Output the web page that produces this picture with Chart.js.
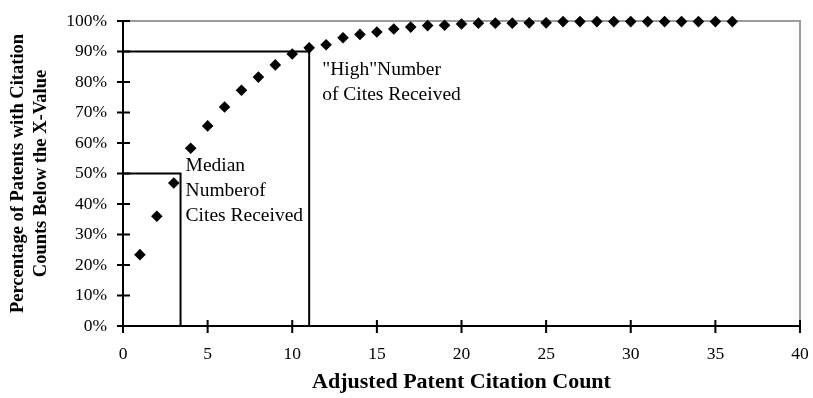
<!DOCTYPE html>
<html>
<head>
<meta charset="utf-8">
<script src="https://cdn.jsdelivr.net/npm/chart.js@4/dist/chart.umd.min.js"></script>
<style>
  html, body { margin: 0; padding: 0; background: #fff; }
  #wrap { width: 813px; height: 398px; }
</style>
</head>
<body>
<div id="wrap"><canvas id="c" width="813" height="398"></canvas></div>
<script>
// ---- data ----
const citationCounts = [1,2,3,4,5,6,7,8,9,10,11,12,13,14,15,16,17,18,19,20,21,22,23,24,25,26,27,28,29,30,31,32,33,34,35,36];
const cumulativePct = [23.4,36.0,46.9,58.3,65.6,71.8,77.3,81.6,85.6,89.2,91.2,92.2,94.5,95.6,96.4,97.4,98.0,98.5,98.6,99.0,
                       99.3,99.3,99.3,99.4,99.4,99.8,99.8,99.8,99.8,99.8,99.8,99.8,99.8,99.8,99.8,99.8];
const medianCount = 3.4, medianPct = 50;
const highCount = 11, highPct = 90;
const xTickValues = [0,5,10,15,20,25,30,35,40];
const yTickValues = [0,10,20,30,40,50,60,70,80,90,100];
const medianLabel = ['Median', 'Numberof', 'Cites Received'];
const highLabel = ['"High"Number', 'of Cites Received'];
const xTitle = 'Adjusted Patent Citation Count';
const yTitle = ['Percentage of Patents with Citation', 'Counts Below the X-Value'];

const SERIF = '"Liberation Serif", "Times New Roman", serif';

const points = citationCounts.map((c, i) => ({x: c, y: cumulativePct[i]}));
const medianPath = [{x: 0, y: medianPct}, {x: medianCount, y: medianPct}, {x: medianCount, y: 0}];
const highPath = [{x: 0, y: highPct}, {x: highCount, y: highPct}, {x: highCount, y: 0}];

const framePlugin = {
  id: 'frame',
  beforeDatasetsDraw(chart) {
    const {ctx, chartArea: a, scales: {x, y}} = chart;
    ctx.save();
    ctx.strokeStyle = '#9c9c9c';
    ctx.lineWidth = 2;
    ctx.beginPath();
    ctx.moveTo(a.left, a.top); ctx.lineTo(a.right, a.top); ctx.lineTo(a.right, a.bottom);
    ctx.stroke();
    ctx.strokeStyle = '#000';
    ctx.lineWidth = 2;
    ctx.beginPath();
    ctx.moveTo(a.left, a.top); ctx.lineTo(a.left, a.bottom); ctx.lineTo(a.right, a.bottom);
    ctx.stroke();
    ctx.beginPath();
    yTickValues.forEach(v => { const py = y.getPixelForValue(v); ctx.moveTo(a.left - 6, py); ctx.lineTo(a.left + 7, py); });
    xTickValues.forEach(v => { const px = x.getPixelForValue(v); ctx.moveTo(px, a.bottom - 6); ctx.lineTo(px, a.bottom + 7); });
    ctx.stroke();
    ctx.restore();
  },
  afterDatasetsDraw(chart) {
    const {ctx, scales: {x, y}} = chart;
    ctx.save();
    ctx.fillStyle = '#000';
    ctx.font = '19.5px ' + SERIF;
    ctx.textBaseline = 'middle';
    ctx.textAlign = 'left';
    const lh = 25;
    let mx = x.getPixelForValue(medianCount) + 5, my = y.getPixelForValue(medianPct) - 8;
    medianLabel.forEach((t, i) => ctx.fillText(t, mx, my + i * lh));
    let hx = x.getPixelForValue(highCount) + 13, hy = y.getPixelForValue(highPct) + 18;
    highLabel.forEach((t, i) => ctx.fillText(t, hx, hy + i * lh));
    ctx.restore();
  }
};

new Chart(document.getElementById('c'), {
  type: 'scatter',
  data: {
    datasets: [
      { data: points, pointStyle: 'rectRot', pointRadius: 5.8, pointHoverRadius: 5.8,
        backgroundColor: '#000', borderColor: '#000', borderWidth: 0, clip: false, order: 0 },
      { type: 'line', data: medianPath, borderColor: '#000', borderWidth: 2, pointRadius: 0, fill: false, tension: 0, order: 1 },
      { type: 'line', data: highPath, borderColor: '#000', borderWidth: 2, pointRadius: 0, fill: false, tension: 0, order: 1 }
    ]
  },
  options: {
    responsive: false,
    animation: false,
    devicePixelRatio: 1,
    layout: { padding: { top: 21, right: 13, left: 0, bottom: 0 } },
    plugins: { legend: { display: false }, tooltip: { enabled: false } },
    events: [],
    scales: {
      x: {
        type: 'linear', min: 0, max: 40,
        afterBuildTicks: s => { s.ticks = xTickValues.map(v => ({value: v})); },
        afterFit: s => { s.height = 72; s.paddingLeft = 0; s.paddingRight = 0; },
        grid: { display: false, drawTicks: false },
        border: { display: false },
        ticks: { color: '#000', font: { family: SERIF, size: 17.5 }, padding: 18, maxRotation: 0 },
        title: { display: true, text: xTitle, color: '#000',
                 font: { family: SERIF, size: 22, weight: 'bold', lineHeight: 1.2 }, padding: { top: 0, bottom: 2 } }
      },
      y: {
        type: 'linear', min: 0, max: 100,
        afterBuildTicks: s => { s.ticks = yTickValues.map(v => ({value: v})); },
        afterFit: s => { s.width = 123; s.paddingTop = 0; s.paddingBottom = 0; },
        grid: { display: false, drawTicks: false },
        border: { display: false },
        ticks: { color: '#000', font: { family: SERIF, size: 17.5 }, padding: 16, callback: v => v + '%' },
        title: { display: true, text: yTitle, color: '#000',
                 font: { family: SERIF, size: 18.5, weight: 'bold', lineHeight: 1.28 }, padding: { top: 6, bottom: 0 } }
      }
    }
  },
  plugins: [framePlugin]
});
</script>
</body>
</html>
